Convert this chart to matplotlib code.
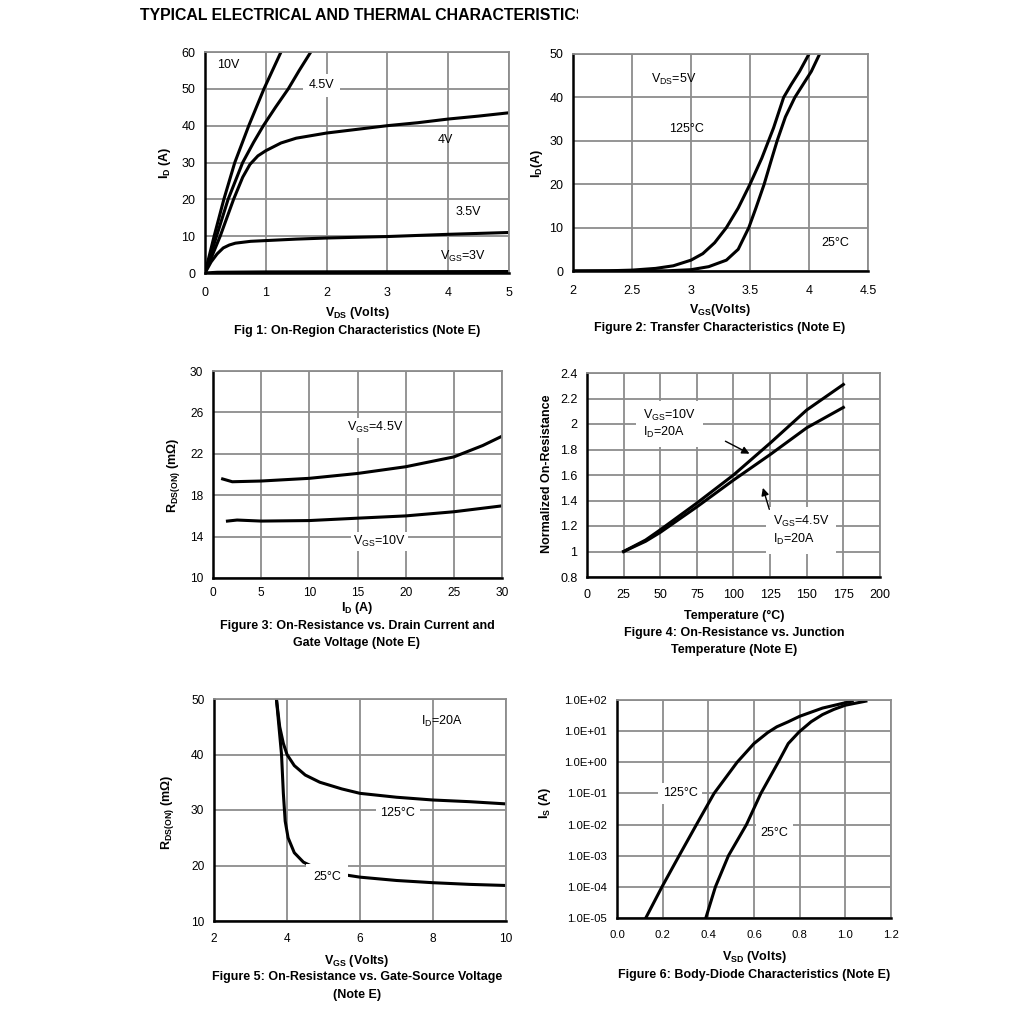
import matplotlib
matplotlib.use("Agg")
import matplotlib.pyplot as plt
from matplotlib.ticker import FuncFormatter, NullLocator
from matplotlib.patches import Rectangle

plt.rcParams['font.family'] = ['Liberation Sans', 'DejaVu Sans']
plt.rcParams['mathtext.fontset'] = 'custom'
plt.rcParams['mathtext.rm'] = 'Liberation Sans'
plt.rcParams['mathtext.bf'] = 'Liberation Sans:bold'
plt.rcParams['mathtext.it'] = 'Liberation Sans:italic'

# ---- Fig 1: output characteristics ----
vds_10 = [0, 0.15, 0.31, 0.49, 0.72, 0.97, 1.25]
id_10 = [0, 10, 20, 30, 40, 50, 60]
vds_45 = [0, 0.19, 0.38, 0.62, 0.8, 0.96, 1.16, 1.37, 1.55, 1.74]
id_45 = [0, 10, 20, 30, 35.5, 40, 45, 50, 55, 60]
vds_4 = [0, 0.25, 0.47, 0.62, 0.74, 0.87, 1.0, 1.25, 1.5, 2, 2.5, 3, 3.5, 4, 4.5, 5]
id_4 = [0, 10, 20, 26, 29.5, 31.8, 33.2, 35.3, 36.6, 38, 39, 40, 40.8, 41.8, 42.6, 43.5]
vds_35 = [0, 0.1, 0.2, 0.3, 0.4, 0.5, 0.75, 1, 1.5, 2, 3, 4, 5]
id_35 = [0, 3, 5.2, 6.8, 7.6, 8.1, 8.6, 8.8, 9.2, 9.5, 9.9, 10.5, 11]
vds_3 = [0, 0.2, 1, 5]
id_3 = [0, 0.2, 0.3, 0.4]

# ---- Fig 2: transfer characteristics ----
vgs_125 = [2.0, 2.3, 2.5, 2.7, 2.85, 3.0, 3.1, 3.2, 3.3, 3.4, 3.5, 3.6, 3.7, 3.785, 3.85, 3.92, 4.0]
idt_125 = [0, 0.05, 0.2, 0.6, 1.2, 2.5, 4, 6.5, 10, 14.5, 20, 26, 33, 40, 43, 46, 50]
vgs_25 = [2.0, 2.8, 3.0, 3.15, 3.3, 3.4, 3.49, 3.55, 3.62, 3.68, 3.73, 3.8, 3.88, 3.95, 4.02, 4.09]
idt_25 = [0, 0.05, 0.3, 1, 2.5, 5, 10, 14.5, 20, 25.5, 30, 35.5, 40, 43, 46, 50]

# ---- Fig 3: Rds(on) vs Id ----
id_r45 = [1, 2, 5, 10, 15, 20, 25, 28, 30]
rds_45 = [19.57, 19.3, 19.37, 19.63, 20.1, 20.75, 21.7, 22.8, 23.7]
id_r10 = [1.5, 2.5, 5, 10, 15, 20, 25, 30]
rds_10 = [15.5, 15.6, 15.5, 15.55, 15.78, 16.0, 16.4, 16.97]

# ---- Fig 4: normalized Rds(on) vs temperature ----
temp = [25, 40, 50, 75, 100, 125, 150, 175]
norm_10 = [1.0, 1.09, 1.17, 1.38, 1.60, 1.85, 2.11, 2.31]
norm_45 = [1.0, 1.08, 1.15, 1.35, 1.56, 1.76, 1.97, 2.13]

# ---- Fig 5: Rds(on) vs Vgs ----
vg5_25 = [3.71, 3.78, 3.85, 3.9, 3.95, 4.03, 4.2, 4.45, 4.8, 5.6, 6, 7, 8, 9, 10]
r5_25 = [50, 45, 40, 33, 28, 25, 22.3, 20.6, 19.5, 18.3, 17.9, 17.3, 16.9, 16.6, 16.4]
vg5_125 = [3.71, 3.8, 3.9, 4.0, 4.2, 4.5, 4.9, 5.5, 6, 7, 8, 9, 10]
r5_125 = [50, 45, 42, 40, 38, 36.3, 35, 33.8, 33, 32.3, 31.8, 31.5, 31.1]

# ---- Fig 6: body diode ----
vsd_125 = [0.126, 0.197, 0.272, 0.348, 0.425, 0.526, 0.6, 0.66, 0.7, 0.75, 0.8, 0.9, 1.03]
is_125 = [1e-5, 1e-4, 1e-3, 1e-2, 1e-1, 1e0, 4.0, 9.0, 13.8, 20, 30, 55, 92]
vsd_25 = [0.389, 0.431, 0.488, 0.567, 0.63, 0.706, 0.75, 0.798, 0.85, 0.9, 0.95, 1.0, 1.09]
is_25 = [1e-5, 1e-4, 1e-3, 1e-2, 1e-1, 1e0, 4.0, 9.5, 20, 34, 50, 68, 92]

W, H = 1020, 1032
fig = plt.figure(figsize=(W / 100, H / 100), dpi=100)


def make_ax(x0, y0, x1, y1, fs=9, xpad=10):
    ax = fig.add_axes([x0 / W, 1 - y1 / H, (x1 - x0) / W, (y1 - y0) / H])
    ax.grid(True, color='#8c8c8c', lw=1.3)
    ax.set_axisbelow(True)
    for s in ('left', 'bottom'):
        ax.spines[s].set_color('black')
        ax.spines[s].set_linewidth(1.8)
    for s in ('top', 'right'):
        ax.spines[s].set_color('#8c8c8c')
        ax.spines[s].set_linewidth(1.3)
    ax.tick_params(length=0, labelsize=fs)
    ax.tick_params(axis='y', pad=7)
    ax.tick_params(axis='x', pad=xpad)
    return ax


def ftext(x, y, s, **kw):
    kw.setdefault('ha', 'center')
    kw.setdefault('va', 'center')
    kw.setdefault('fontsize', 9)
    return fig.text(x / W, 1 - y / H, s, **kw)


gfmt = FuncFormatter(lambda v, p: '%g' % v)
lw = 2.2
white = dict(fc='white', ec='none', pad=1.5)

title = ftext(140, 15, 'TYPICAL ELECTRICAL AND THERMAL CHARACTERISTICS',
              ha='left', fontsize=11.4, fontweight='bold')
title.set_clip_path(Rectangle((0, 0), 578, H, transform=None))

# Fig 1
ax1 = make_ax(205, 52, 509, 273, fs=9, xpad=10)
for x, y in [(vds_10, id_10), (vds_45, id_45), (vds_4, id_4), (vds_35, id_35), (vds_3, id_3)]:
    ax1.plot(x, y, color='black', lw=lw)
ax1.set_xlim(0, 5)
ax1.set_ylim(0, 60)
ax1.set_xticks(range(6))
ax1.set_yticks(range(0, 61, 10))
ax1.text(0.38, 56.5, '10V', fontsize=9, ha='center', va='center')
ax1.text(1.92, 51, '4.5V', fontsize=9, ha='center', va='center', bbox=dict(fc='white', ec='none', pad=4))
ax1.text(3.95, 36, '4V', fontsize=9, ha='center', va='center')
ax1.text(4.33, 16.6, '3.5V', fontsize=9, ha='center', va='center')
ax1.text(4.24, 4.6, r'V$_\mathrm{GS}$=3V', fontsize=9, ha='center', va='center')
ftext(357, 313, r'V$_\mathbf{DS}$ (Volts)', fontweight='bold')
ftext(357, 331, 'Fig 1: On-Region Characteristics (Note E)', fontweight='bold')
ftext(165, 163, r'I$_\mathbf{D}$ (A)', fontweight='bold', rotation=90)

# Fig 2
ax2 = make_ax(573, 54, 868, 271, fs=9, xpad=10)
ax2.plot(vgs_125, idt_125, color='black', lw=lw)
ax2.plot(vgs_25, idt_25, color='black', lw=lw)
ax2.set_xlim(2, 4.5)
ax2.set_ylim(0, 50)
ax2.set_xticks([2, 2.5, 3, 3.5, 4, 4.5])
ax2.set_yticks(range(0, 51, 10))
ax2.xaxis.set_major_formatter(gfmt)
ax2.text(2.85, 44.2, r'V$_\mathrm{DS}$=5V', fontsize=9, ha='center', va='center')
ax2.text(2.96, 32.7, '125°C', fontsize=9, ha='center', va='center')
ax2.text(4.22, 6.5, '25°C', fontsize=9, ha='center', va='center')
ftext(720, 310, r'V$_\mathbf{GS}$(Volts)', fontweight='bold')
ftext(720, 328, 'Figure 2: Transfer Characteristics (Note E)', fontweight='bold')
ftext(537, 163, r'I$_\mathbf{D}$(A)', fontweight='bold', rotation=90)

# Fig 3
ax3 = make_ax(213, 371, 502, 578, fs=8.6, xpad=6.5)
ax3.plot(id_r45, rds_45, color='black', lw=lw)
ax3.plot(id_r10, rds_10, color='black', lw=lw)
ax3.set_xlim(0, 30)
ax3.set_ylim(10, 30)
ax3.set_xticks(range(0, 31, 5))
ax3.set_yticks(range(10, 31, 4))
ax3.text(16.8, 24.5, r'V$_\mathrm{GS}$=4.5V', fontsize=9, ha='center', va='center', bbox=white)
ax3.text(17.3, 13.5, r'V$_\mathrm{GS}$=10V', fontsize=9, ha='center', va='center', bbox=white)
ftext(357, 608, r'I$_\mathbf{D}$ (A)', fontweight='bold')
ftext(357, 626, 'Figure 3: On-Resistance vs. Drain Current and', fontweight='bold')
ftext(357, 643, 'Gate Voltage (Note E)', fontweight='bold')
ftext(173, 475, r'R$_\mathbf{DS(ON)}$ (m$\mathbf{\Omega}$)', fontweight='bold', rotation=90)

# Fig 4
ax4 = make_ax(587, 373, 880, 577, fs=9, xpad=8.5)
ax4.plot(temp, norm_10, color='black', lw=lw)
ax4.plot(temp, norm_45, color='black', lw=lw)
ax4.set_xlim(0, 200)
ax4.set_ylim(0.8, 2.4)
ax4.set_xticks(range(0, 201, 25))
ax4.set_yticks([0.8, 1.0, 1.2, 1.4, 1.6, 1.8, 2.0, 2.2, 2.4])
ax4.yaxis.set_major_formatter(gfmt)
ax4.text(38, 2.0, 'V$_\\mathrm{GS}$=10V\nI$_\\mathrm{D}$=20A', fontsize=9, ha='left', va='center',
         linespacing=1.25, bbox=dict(fc='white', ec='none', pad=5))
ax4.text(127, 1.165, 'V$_\\mathrm{GS}$=4.5V\nI$_\\mathrm{D}$=20A', fontsize=9, ha='left', va='center',
         linespacing=1.25, bbox=dict(fc='white', ec='none', pad=5))
ax4.annotate('', xy=(112.6, 1.757), xytext=(92.8, 1.875),
             arrowprops=dict(arrowstyle='-|>', color='black', lw=1, mutation_scale=11))
ax4.annotate('', xy=(119.5, 1.52), xytext=(125, 1.31),
             arrowprops=dict(arrowstyle='-|>', color='black', lw=1, mutation_scale=11))
ftext(734, 616, 'Temperature (°C)', fontweight='bold')
ftext(734, 633, 'Figure 4: On-Resistance vs. Junction', fontweight='bold')
ftext(734, 650, 'Temperature (Note E)', fontweight='bold')
ftext(547, 474, 'Normalized On-Resistance', fontweight='bold', rotation=90)

# Fig 5
ax5 = make_ax(214, 699, 506, 921, fs=8.6, xpad=8.5)
ax5.plot(vg5_125, r5_125, color='black', lw=lw)
ax5.plot(vg5_25, r5_25, color='black', lw=lw)
ax5.set_xlim(2, 10)
ax5.set_ylim(10, 50)
ax5.set_xticks(range(2, 11, 2))
ax5.set_yticks(range(10, 51, 10))
ax5.text(7.04, 29.5, '125°C', fontsize=9, ha='center', va='center', bbox=dict(fc='white', ec='none', pad=3))
ax5.text(5.1, 17.9, '25°C', fontsize=9, ha='center', va='center', bbox=dict(fc='white', ec='none', pad=5), zorder=5)
ax5.text(8.25, 45.9, r'I$_\mathrm{D}$=20A', fontsize=9, ha='center', va='center')
ftext(357, 961, r'V$_\mathbf{GS}$ (Volts)', fontweight='bold')
ftext(357, 977, 'Figure 5: On-Resistance vs. Gate-Source Voltage', fontweight='bold')
ftext(357, 995, '(Note E)', fontweight='bold')
ftext(168, 812, r'R$_\mathbf{DS(ON)}$ (m$\mathbf{\Omega}$)', fontweight='bold', rotation=90)

# Fig 6
ax6 = make_ax(617, 700, 891, 918, fs=8.2, xpad=8.5)
ax6.plot(vsd_125, is_125, color='black', lw=lw)
ax6.plot(vsd_25, is_25, color='black', lw=lw)
ax6.set_yscale('log')
ax6.set_xlim(0, 1.2)
ax6.set_ylim(1e-5, 1e2)
ax6.set_xticks([0, 0.2, 0.4, 0.6, 0.8, 1.0, 1.2])
ax6.set_yticks([1e-5, 1e-4, 1e-3, 1e-2, 1e-1, 1e0, 1e1, 1e2])
ax6.yaxis.set_minor_locator(NullLocator())
ax6.xaxis.set_major_formatter(FuncFormatter(lambda v, p: '%.1f' % v))
ax6.yaxis.set_major_formatter(FuncFormatter(lambda v, p: '%.1E' % v))
ax6.text(0.276, 0.1, '125°C', fontsize=9, ha='center', va='center', bbox=dict(fc='white', ec='none', pad=3))
ax6.text(0.69, 5.4e-3, '25°C', fontsize=9, ha='center', va='center', bbox=dict(fc='white', ec='none', pad=3))
ftext(754, 957, r'V$_\mathbf{SD}$ (Volts)', fontweight='bold')
ftext(754, 975, 'Figure 6: Body-Diode Characteristics (Note E)', fontweight='bold')
ftext(545, 803, r'I$_\mathbf{S}$ (A)', fontweight='bold', rotation=90)

fig.savefig('out.png', dpi=100)
